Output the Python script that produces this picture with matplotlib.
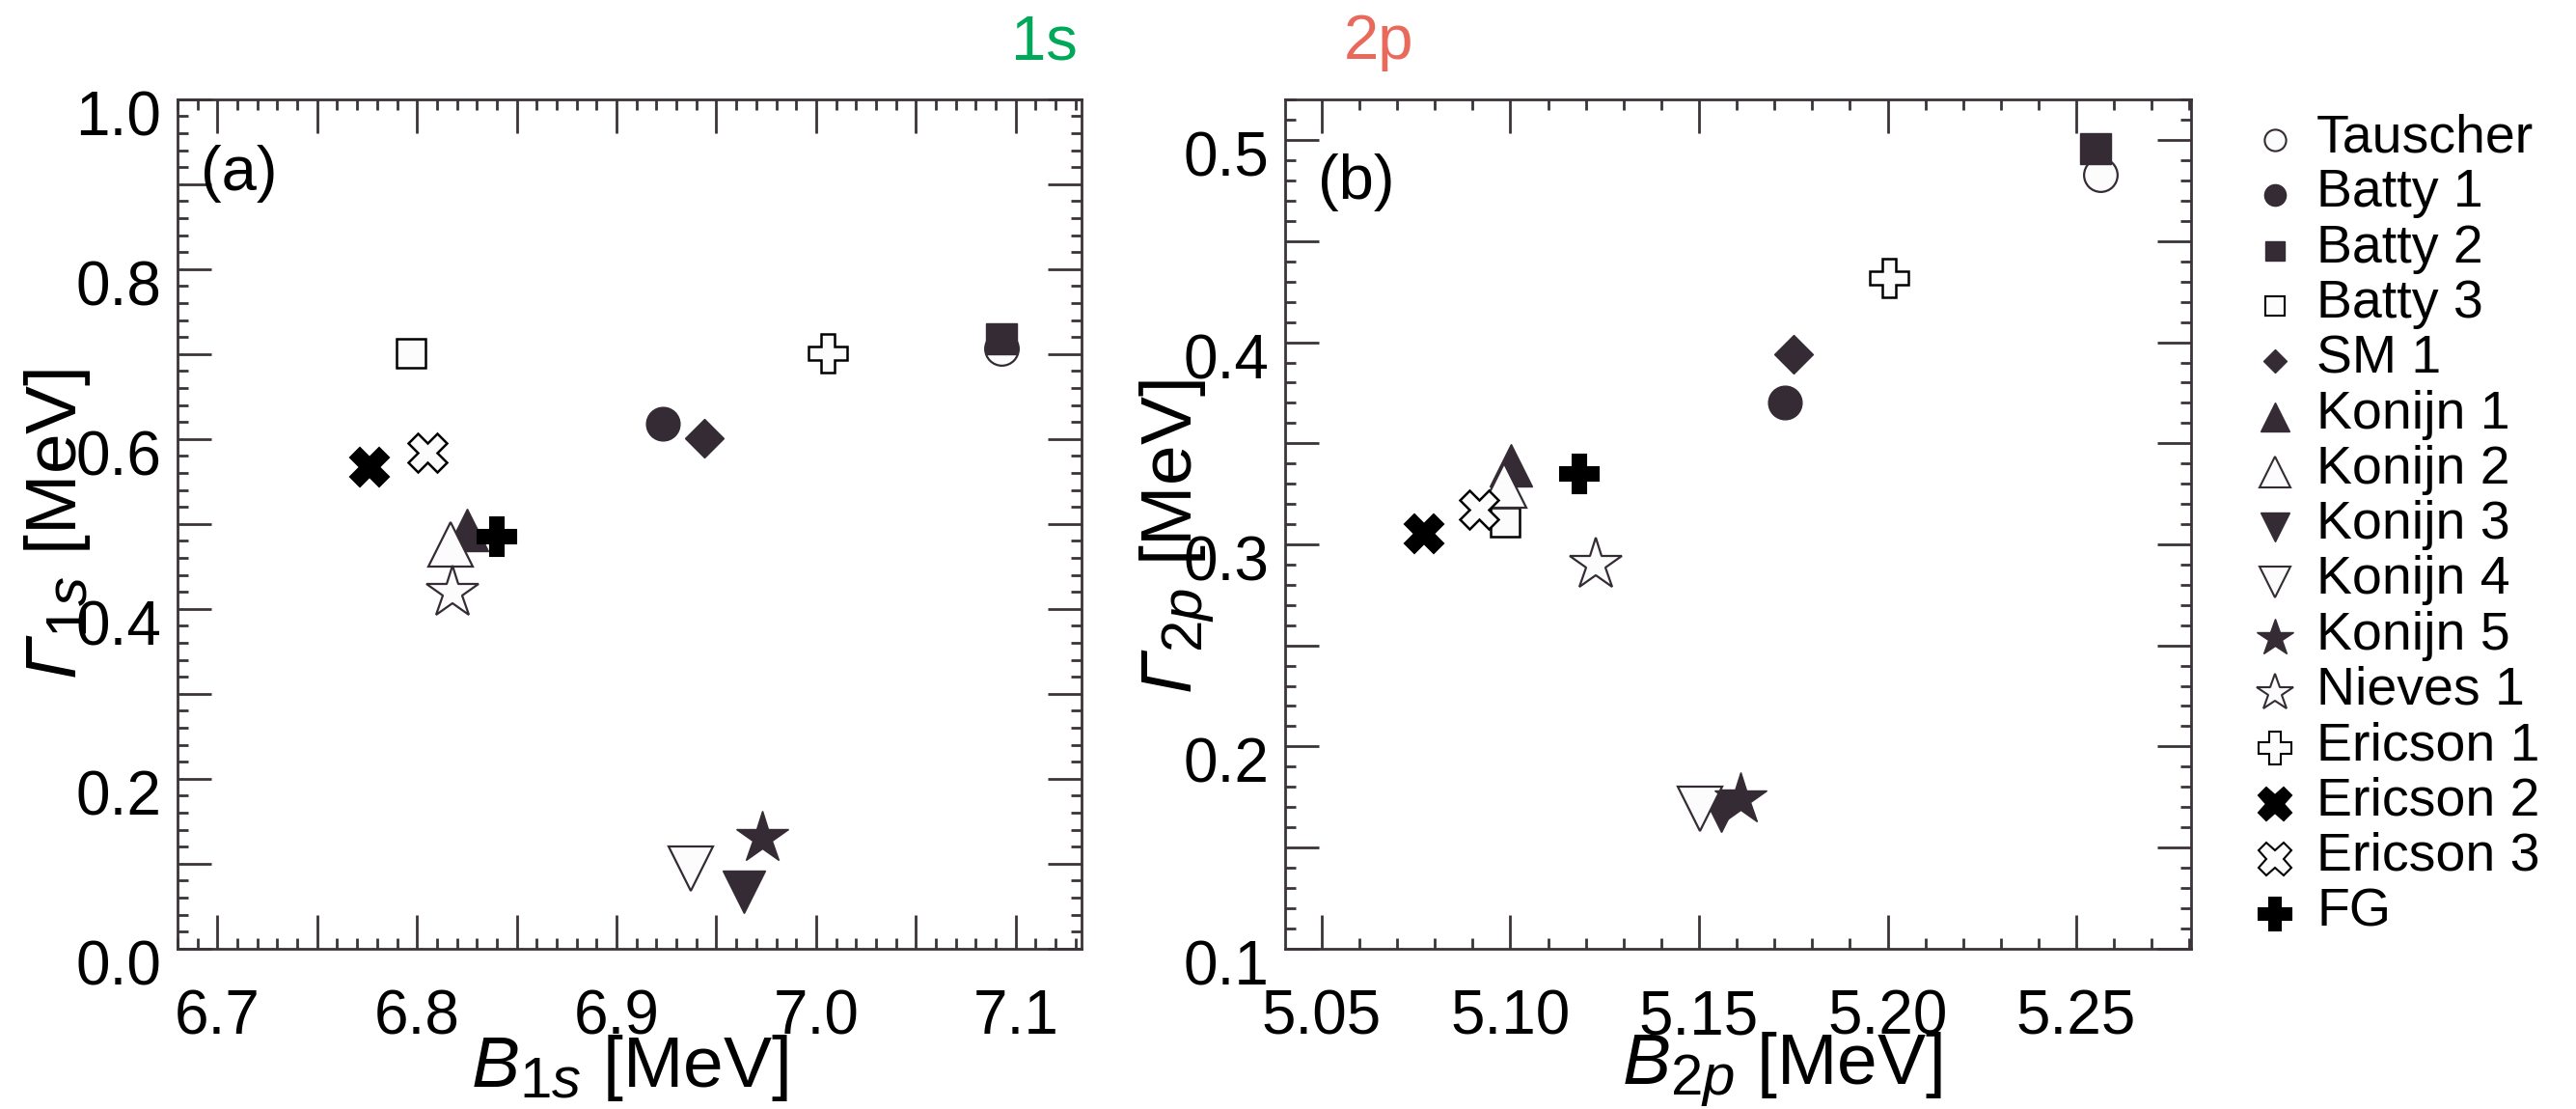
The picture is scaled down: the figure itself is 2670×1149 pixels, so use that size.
import matplotlib
matplotlib.use("Agg")
import matplotlib.pyplot as plt
import matplotlib._mathtext as _mt
from matplotlib.ticker import MultipleLocator, FuncFormatter
from matplotlib.transforms import ScaledTranslation

# ---------------- data ----------------
names = ["Tauscher", "Batty 1", "Batty 2", "Batty 3", "SM 1", "Konijn 1", "Konijn 2",
         "Konijn 3", "Konijn 4", "Konijn 5", "Nieves 1", "Ericson 1", "Ericson 2",
         "Ericson 3", "FG"]
B1s = [7.093, 6.923, 7.093, 6.797, 6.944, 6.825, 6.817, 6.964, 6.937, 6.973, 6.818,
       7.006, 6.776, 6.805, 6.840]
G1s = [0.706, 0.618, 0.718, 0.701, 0.601, 0.493, 0.476, 0.067, 0.094, 0.130, 0.419,
       0.701, 0.567, 0.584, 0.485]
B2p = [5.2564, 5.1728, 5.2550, 5.0986, 5.1750, 5.1001, 5.0983, 5.1559, 5.1503, 5.1611,
       5.1226, 5.2004, 5.0771, 5.0918, 5.1184]
G2p = [0.483, 0.370, 0.496, 0.311, 0.394, 0.339, 0.329, 0.168, 0.169, 0.174, 0.290,
       0.432, 0.305, 0.317, 0.335]

# ---------------- styles ----------------
DARK = "#342b34"
WHITE = "#fcfcfc"
BLACK = "#000000"
# marker, facecolor, edgecolor, size(pt), legend size(pt), edge width
styles = [
    ("o", WHITE, DARK, 25, 16, 1.6),
    ("o", DARK, DARK, 25, 16, 1.0),
    ("s", DARK, DARK, 23, 14, 1.0),
    ("s", WHITE, BLACK, 22, 14, 1.8),
    ("D", DARK, DARK, 20, 12, 1.0),
    ("^", DARK, DARK, 31, 22, 1.0),
    ("^", WHITE, DARK, 33, 23, 1.6),
    ("v", DARK, DARK, 32, 22, 1.0),
    ("v", WHITE, DARK, 33, 23, 1.6),
    ("*", DARK, DARK, 41, 29, 1.0),
    ("*", WHITE, DARK, 41, 29, 1.6),
    ("P", WHITE, BLACK, 29, 24, 1.8),
    ("X", BLACK, BLACK, 29, 25, 1.5),
    ("X", WHITE, BLACK, 29, 25, 1.8),
    ("P", BLACK, BLACK, 29, 24, 1.5),
]

plt.rcParams["font.family"] = ["Liberation Sans", "DejaVu Sans"]
plt.rcParams["mathtext.fontset"] = "custom"
plt.rcParams["mathtext.rm"] = "Liberation Sans"
plt.rcParams["mathtext.it"] = "Liberation Sans:italic"
plt.rcParams["mathtext.sf"] = "Liberation Sans:italic"
plt.rcParams["mathtext.bf"] = "Liberation Sans:bold"
# larger subscripts, as in the reference
_mt.SHRINK_FACTOR = 0.8

W, H = 2670, 1149
fig = plt.figure(figsize=(W / 100, H / 100), dpi=100)
fig.patch.set_facecolor("white")

SPINE = "#3b3339"
TICKFS = 46
LABFS = 54

ax_a = fig.add_axes([184 / W, 1 - 982.7 / H, 937 / W, 880 / H])
ax_b = fig.add_axes([1332 / W, 1 - 982.7 / H, 939 / W, 880 / H])

for i in range(len(names)):
    m, fc, ec, ms, lms, mew = styles[i]
    kw = dict(linestyle="none", marker=m, markerfacecolor=fc, markeredgecolor=ec,
              markersize=ms, markeredgewidth=mew, zorder=3 + i * 0.01)
    ax_a.plot([B1s[i]], [G1s[i]], **kw)
    ax_b.plot([B2p[i]], [G2p[i]], **kw)


def fmt_every(step, dec):
    def f(v, pos):
        r = v / step
        if abs(r - round(r)) < 1e-6:
            return f"{v:.{dec}f}"
        return ""
    return FuncFormatter(f)


ax_a.set_xlim(6.68, 7.133)
ax_a.set_ylim(0.0, 1.0)
ax_a.xaxis.set_major_locator(MultipleLocator(0.05))
ax_a.xaxis.set_minor_locator(MultipleLocator(0.01))
ax_a.xaxis.set_major_formatter(fmt_every(0.1, 1))
ax_a.yaxis.set_major_locator(MultipleLocator(0.1))
ax_a.yaxis.set_minor_locator(MultipleLocator(0.02))
ax_a.yaxis.set_major_formatter(fmt_every(0.2, 1))

ax_b.set_xlim(5.0403, 5.2804)
ax_b.set_ylim(0.1, 0.5203)
ax_b.xaxis.set_major_locator(MultipleLocator(0.05))
ax_b.xaxis.set_minor_locator(MultipleLocator(0.01))
ax_b.xaxis.set_major_formatter(fmt_every(0.05, 2))
ax_b.yaxis.set_major_locator(MultipleLocator(0.05))
ax_b.yaxis.set_minor_locator(MultipleLocator(0.01))
ax_b.yaxis.set_major_formatter(fmt_every(0.1, 1))

for ax in (ax_a, ax_b):
    for sp in ax.spines.values():
        sp.set_color(SPINE)
        sp.set_linewidth(2.0)
    ax.tick_params(which="both", direction="in", top=True, right=True,
                   color=SPINE, width=2.0, labelsize=TICKFS, labelcolor="black")
    ax.tick_params(which="major", length=25)
    ax.tick_params(which="minor", length=8)
    ax.tick_params(axis="x", which="major", pad=30)
    ax.tick_params(axis="y", which="major", pad=12)

ax_a.set_xlabel(r"$B_{1s}$ [MeV]", fontsize=LABFS, va="baseline")
ax_a.xaxis.set_label_coords(0.5, -0.163)
ax_b.set_xlabel(r"$B_{2p}$ [MeV]", fontsize=LABFS, va="baseline")
ax_b.xaxis.set_label_coords(0.548, -0.160)
ax_a.set_ylabel(r"$\mathsf{\Gamma}_{1s}$ [MeV]", fontsize=LABFS, va="center")
ax_a.yaxis.set_label_coords(-0.133, 0.5)
ax_b.set_ylabel(r"$\mathsf{\Gamma}_{2p}$ [MeV]", fontsize=LABFS, va="center")
ax_b.yaxis.set_label_coords(-0.119, 0.485)

ax_a.text(0.026, 0.893, "(a)", transform=ax_a.transAxes, fontsize=47,
          ha="left", va="baseline")
ax_b.text(0.036, 0.883, "(b)", transform=ax_b.transAxes, fontsize=47,
          ha="left", va="baseline")

fig.text(1117 / W, 1 - 62 / H, "1s", color="#00A859", fontsize=47,
         ha="right", va="baseline")
fig.text(1393 / W, 1 - 61 / H, "2p", color="#E9695B", fontsize=47,
         ha="left", va="baseline")

# ---------------- legend ----------------
lax = fig.add_axes([0, 0, 1, 1], facecolor="none")
lax.set_xlim(0, W)
lax.set_ylim(H, 0)
lax.axis("off")
y0, dy = 145, 57.3
for i, name in enumerate(names):
    m, fc, ec, ms, lms, mew = styles[i]
    yy = y0 + i * dy
    lax.plot([2358], [yy], linestyle="none", marker=m, markerfacecolor=fc,
             markeredgecolor=ec, markersize=lms, markeredgewidth=min(mew, 1.5))
    lax.text(2401, yy + 12, name, fontsize=40, ha="left", va="baseline")

# shift y tick labels slightly downward (as in the reference)
fig.canvas.draw()
off = ScaledTranslation(0, -14 / 100, fig.dpi_scale_trans)
for ax in (ax_a, ax_b):
    for t in ax.yaxis.get_major_ticks():
        t.label1.set_transform(t.label1.get_transform() + off)

fig.savefig("out.png", dpi=100, facecolor="white")
